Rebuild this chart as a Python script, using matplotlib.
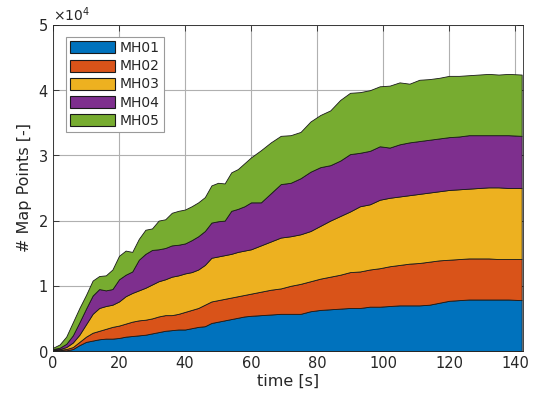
import numpy as np
import matplotlib
matplotlib.use("Agg")
import matplotlib.pyplot as plt
from matplotlib.ticker import ScalarFormatter

time_s = [0, 2, 4, 6, 8, 10, 12, 14, 16, 18, 20, 22, 24, 26, 28, 30, 32, 34, 36, 38,
          40, 42, 44, 46, 48, 50, 52, 54, 56, 58, 60, 63, 66, 69, 72, 75, 78, 81, 84, 87,
          90, 93, 96, 99, 102, 105, 108, 111, 114, 117, 120, 123, 126, 129, 132, 135, 138, 142]

mh01 = [50, 100, 100, 300, 900, 1400, 1600, 1800, 1900, 1900, 2000, 2200, 2300, 2400, 2500, 2700,
        2900, 3100, 3200, 3300, 3300, 3500, 3700, 3800, 4300, 4500, 4700, 4900, 5100, 5300, 5400,
        5500, 5600, 5700, 5700, 5700, 6100, 6300, 6400, 6500, 6600, 6600, 6800, 6800, 6900, 7000,
        7000, 7000, 7100, 7400, 7700, 7800, 7900, 7900, 7900, 7900, 7900, 7800]
mh02 = [50, 100, 200, 300, 500, 800, 1200, 1300, 1500, 1800, 1900, 2000, 2200, 2300, 2300, 2300,
        2400, 2400, 2300, 2400, 2700, 2800, 2900, 3300, 3300, 3300, 3300, 3300, 3300, 3300, 3400,
        3600, 3800, 3900, 4300, 4600, 4600, 4800, 5000, 5200, 5500, 5600, 5700, 5900, 6100, 6200,
        6400, 6500, 6600, 6500, 6300, 6300, 6300, 6300, 6300, 6200, 6200, 6300]
mh03 = [100, 100, 300, 700, 1100, 1900, 2900, 3500, 3500, 3400, 3700, 4200, 4400, 4600, 4900, 5200,
        5400, 5500, 5900, 5900, 5900, 5800, 5900, 6100, 6700, 6700, 6700, 6700, 6800, 6800, 6800,
        7100, 7400, 7800, 7600, 7600, 7700, 8100, 8600, 9000, 9300, 10000, 10000, 10500, 10500, 10500,
        10500, 10600, 10600, 10600, 10700, 10700, 10700, 10800, 10900, 11000, 10900, 10900]
mh04 = [100, 200, 500, 1100, 1900, 2400, 2800, 2900, 2400, 2400, 3400, 3300, 3300, 4700, 5200, 5300,
        4900, 4800, 4800, 4700, 4600, 4900, 5100, 5200, 5400, 5400, 5300, 6600, 6600, 6800, 7200,
        6600, 7400, 8200, 8200, 8600, 9100, 9000, 8500, 8500, 8800, 8200, 8200, 8200, 7700, 8000,
        8100, 8100, 8100, 8100, 8100, 8100, 8200, 8100, 8000, 8000, 8100, 8000]
mh05 = [200, 500, 1100, 2000, 2200, 2100, 2300, 2000, 2300, 3000, 3600, 3700, 3000, 3200, 3700, 3300,
        4400, 4400, 5000, 5200, 5200, 5200, 5200, 5200, 5700, 5900, 5700, 5900, 6100, 6600, 6900,
        8000, 7800, 7400, 7300, 7100, 7700, 8000, 8400, 9300, 9400, 9300, 9300, 9200, 9500, 9500,
        9000, 9400, 9300, 9300, 9400, 9300, 9200, 9300, 9400, 9300, 9400, 9400]

labels = ["MH01", "MH02", "MH03", "MH04", "MH05"]
colors = ["#0072BD", "#D95319", "#EDB120", "#7E2F8E", "#77AC30"]
x_ticks = [0, 20, 40, 60, 80, 100, 120, 140]
y_ticks = [0, 10000, 20000, 30000, 40000, 50000]

plt.rcParams['font.family'] = ['DejaVu Sans']
txt = "#262626"

fig = plt.figure(figsize=(5.34, 3.99), dpi=100)
ax = fig.add_axes([53/534, 48/399, 470/534, 326/399])

ax.stackplot(time_s, mh01, mh02, mh03, mh04, mh05, labels=labels, colors=colors,
             edgecolor="#1a1a1a", linewidth=0.6, zorder=2)

ax.set_xlim(0, 142.4)
ax.set_ylim(0, 50000)
ax.set_xticks(x_ticks)
ax.set_yticks(y_ticks)
fmt = ScalarFormatter(useMathText=True)
fmt.set_powerlimits((0, 0))
ax.yaxis.set_major_formatter(fmt)
ax.yaxis.get_offset_text().set_fontsize(10)
ax.yaxis.get_offset_text().set_color(txt)

ax.grid(True, color="#b0b0b0", linewidth=0.8, zorder=0)
ax.set_axisbelow(True)
ax.tick_params(direction="in", length=4, colors=txt, labelsize=10.5, width=0.6,
               top=True, right=True)
for s in ax.spines.values():
    s.set_color(txt)
    s.set_linewidth(0.6)
    s.set_zorder(5)

ax.set_xlabel("time [s]", fontsize=11.5, color=txt, labelpad=2)
ax.set_ylabel("# Map Points [-]", fontsize=11.5, color=txt, labelpad=4)

leg = ax.legend(loc="upper left", bbox_to_anchor=(13/470, 1 - 12/326), fontsize=10,
                frameon=True, fancybox=False, edgecolor="#9a9a9a", framealpha=1,
                handlelength=3.25, handleheight=0.95, handletextpad=0.3,
                labelspacing=0.3, borderpad=0.3, borderaxespad=0)
leg.get_frame().set_linewidth(0.8)
for t in leg.get_texts():
    t.set_color(txt)
for p in leg.get_patches():
    p.set_edgecolor("#1a1a1a")
    p.set_linewidth(0.8)

fig.savefig("out.png", dpi=100)
